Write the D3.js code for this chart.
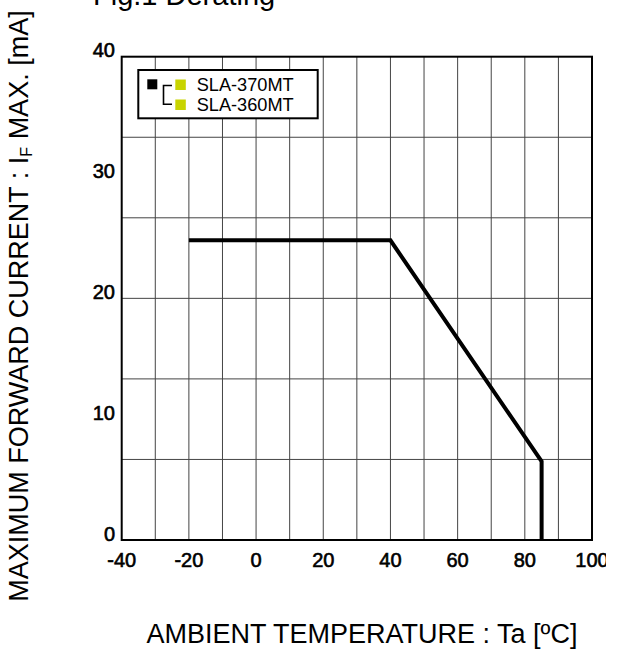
<!DOCTYPE html>
<html>
<head>
<meta charset="utf-8">
<script src="https://cdn.jsdelivr.net/npm/d3@7"></script>
<style>
  body { margin: 0; background: #fff; }
  svg { display: block; font-family: "Liberation Sans", Arial, sans-serif; }
</style>
</head>
<body>
<div id="chart"></div>
<script>
// derating curve: ambient temperature [degC] vs max forward current [mA]
const temps = [-20, 40, 85, 85]
const currents = [24.8, 24.8, 6.5, 0]

// axis ticks
const xTicks = [-40, -20, 0, 20, 40, 60, 80, 100]
const yTicks = [0, 10, 20, 30, 40]
const xGrid = [-30, -20, -10, 0, 10, 20, 30, 40, 50, 60, 70, 80, 90]
const yGrid = [40 / 6, 80 / 6, 20, 160 / 6, 200 / 6]

// legend entries
const legendLabels = ["SLA-370MT", "SLA-360MT"]

const width = 622, height = 650
const svg = d3.select("#chart").append("svg")
    .attr("width", width)
    .attr("height", height)

const x = d3.scaleLinear().domain([-40, 100]).range([121.7, 592])
const y = d3.scaleLinear().domain([0, 40]).range([540, 56.7])

// grid lines
svg.append("g").selectAll("line").data(xGrid).join("line")
    .attr("x1", d => x(d)).attr("x2", d => x(d))
    .attr("y1", y(0)).attr("y2", y(40))
    .attr("stroke", "#444").attr("stroke-width", 1)
svg.append("g").selectAll("line").data(yGrid).join("line")
    .attr("x1", x(-40)).attr("x2", x(100))
    .attr("y1", d => y(d)).attr("y2", d => y(d))
    .attr("stroke", "#444").attr("stroke-width", 1)

// plot frame
svg.append("rect")
    .attr("x", x(-40)).attr("y", y(40))
    .attr("width", x(100) - x(-40)).attr("height", y(0) - y(40))
    .attr("fill", "none").attr("stroke", "#000").attr("stroke-width", 2)

// tick labels
svg.append("g").selectAll("text").data(yTicks).join("text")
    .attr("x", 115).attr("y", d => y(d) + 0.5)
    .attr("text-anchor", "end")
    .attr("font-size", 20)
    .attr("stroke", "#000").attr("stroke-width", 0.6)
    .text(d => d)

svg.append("clipPath").attr("id", "xclip")
    .append("rect").attr("x", 0).attr("y", 540).attr("width", 606).attr("height", 40)
svg.append("g").attr("clip-path", "url(#xclip)")
    .selectAll("text").data(xTicks).join("text")
    .attr("x", d => x(d)).attr("y", 566.7)
    .attr("text-anchor", "middle")
    .attr("font-size", 20)
    .attr("stroke", "#000").attr("stroke-width", 0.6)
    .text(d => d)

// derating line
const line = d3.line().x((d, i) => x(temps[i])).y((d, i) => y(currents[i]))
svg.append("path")
    .datum(temps)
    .attr("d", line)
    .attr("fill", "none")
    .attr("stroke", "#000")
    .attr("stroke-width", 4)
    .attr("stroke-linejoin", "miter")

// legend
const lg = svg.append("g")
lg.append("rect")
    .attr("x", 138.3).attr("y", 70).attr("width", 179.4).attr("height", 48.3)
    .attr("fill", "#fff").attr("stroke", "#000").attr("stroke-width", 2)
lg.append("rect").attr("x", 147.3).attr("y", 79.3).attr("width", 10).attr("height", 10).attr("fill", "#000")
lg.append("path")
    .attr("d", "M172,85.5H163.5V104.3H172")
    .attr("fill", "none").attr("stroke", "#000").attr("stroke-width", 1.6)
lg.selectAll(".sw").data(legendLabels).join("rect")
    .attr("x", 175.3).attr("y", (d, i) => 79.5 + i * 20)
    .attr("width", 10.5).attr("height", 10.5)
    .attr("fill", "#c8d400")
lg.selectAll(".lab").data(legendLabels).join("text")
    .attr("x", 196.7).attr("y", (d, i) => 90.7 + i * 20)
    .attr("font-size", 18.2)
    .text(d => d)

// titles (top title is cut by the page edge, as in the source figure)
svg.append("text")
    .attr("x", 93).attr("y", 5)
    .attr("font-size", 29)
    .text("Fig.1 Derating")

svg.append("text")
    .attr("x", 362).attr("y", 643)
    .attr("text-anchor", "middle")
    .attr("font-size", 27)
    .text("AMBIENT TEMPERATURE : Ta [ºC]")

const yt = svg.append("text")
    .attr("transform", "translate(28,306) rotate(-90)")
    .attr("text-anchor", "middle")
    .attr("font-size", 27)
yt.append("tspan").text("MAXIMUM FORWARD CURRENT : I")
yt.append("tspan").attr("font-size", 16).attr("dy", 4).text("F")
yt.append("tspan").attr("dy", -4).text(" MAX. [mA]")
</script>
</body>
</html>
